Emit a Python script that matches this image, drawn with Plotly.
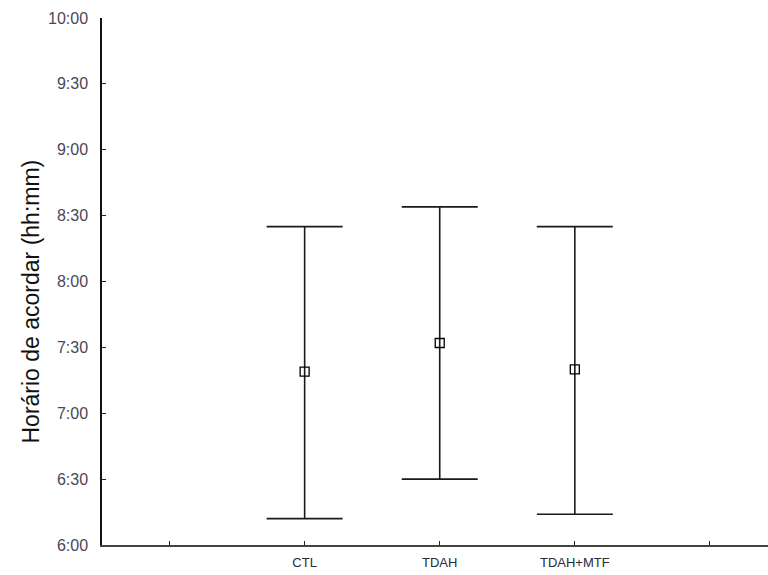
import plotly.graph_objects as go

# Data (hh:mm)
groups = ["CTL", "TDAH", "TDAH+MTF"]
mean_time = ["7:19", "7:32", "7:20"]
upper_time = ["8:25", "8:34", "8:25"]
lower_time = ["6:12", "6:30", "6:14"]

y_tick_labels = ["6:00", "6:30", "7:00", "7:30", "8:00", "8:30", "9:00", "9:30", "10:00"]


def to_hours(s):
    h, m = s.split(":")
    return int(h) + int(m) / 60.0


means = [to_hours(s) for s in mean_time]
uppers = [to_hours(s) for s in upper_time]
lowers = [to_hours(s) for s in lower_time]
err_plus = [u - m for u, m in zip(uppers, means)]
err_minus = [m - l for m, l in zip(means, lowers)]
xpos = list(range(1, len(groups) + 1))

fig = go.Figure()
fig.add_trace(go.Scatter(
    x=xpos, y=means, mode="markers",
    marker=dict(symbol="square-open", size=9, color="black", line=dict(width=1.3)),
    error_y=dict(type="data", symmetric=False, array=err_plus, arrayminus=err_minus,
                 color="#1a1a1a", thickness=1.6, width=38),
    showlegend=False,
))

tick_font = dict(family="Liberation Sans, Arial, sans-serif", size=16, color="#4d4656")

fig.update_layout(
    width=768, height=575,
    margin=dict(l=102, r=0, t=18, b=30),
    paper_bgcolor="white", plot_bgcolor="white",
    xaxis=dict(
        range=[-0.5, 4.43],
        tickvals=[0] + xpos + [len(groups) + 1],
        ticktext=[""] + groups + [""],
        ticks="inside", ticklen=4, tickcolor="#222", tickwidth=1,
        showline=True, linecolor="#444", linewidth=1.5,
        showgrid=False, zeroline=False,
        tickfont=dict(family="Liberation Sans, Arial, sans-serif", size=13, color="#2a2a3a"),
        ticklabelstandoff=5,
    ),
    yaxis=dict(
        range=[6, 10],
        tickvals=[to_hours(s) for s in y_tick_labels],
        ticktext=y_tick_labels,
        ticks="inside", ticklen=4, tickcolor="#222", tickwidth=1,
        showline=True, linecolor="#111", linewidth=1.5,
        showgrid=False, zeroline=False,
        tickfont=tick_font,
        ticklabelstandoff=9,
    ),
    annotations=[dict(
        text="Horário de acordar (hh:mm)", textangle=-90,
        xref="paper", yref="paper", x=0, y=0.5,
        xshift=-72, yshift=-20, xanchor="center", yanchor="middle",
        showarrow=False,
        font=dict(family="Liberation Sans, Arial, sans-serif", size=23, color="#111"),
    )],
)

fig.write_html("out.html")
